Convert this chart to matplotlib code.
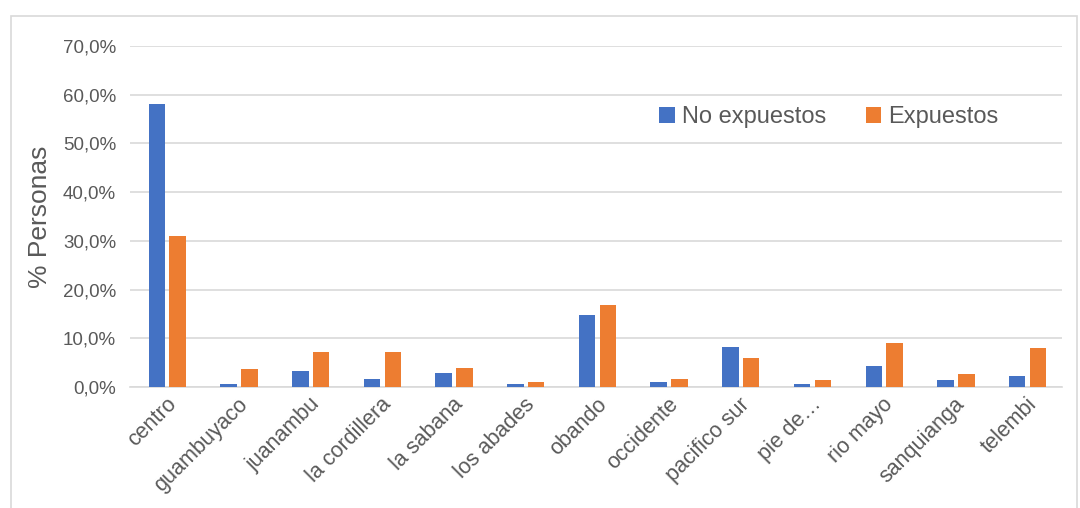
import numpy as np
import matplotlib.pyplot as plt
from matplotlib.patches import Rectangle
from matplotlib.ticker import FuncFormatter

plt.rcParams['font.family'] = ['Liberation Sans', 'DejaVu Sans']

categories = ["centro", "guambuyaco", "juanambu", "la cordillera", "la sabana",
              "los abades", "obando", "occidente", "pacifico sur", "pie de…",
              "rio mayo", "sanquianga", "telembi"]
no_expuestos = [58.0, 0.6, 3.2, 1.6, 2.8, 0.7, 14.8, 1.0, 8.2, 0.6, 4.3, 1.5, 2.3]
expuestos = [31.0, 3.6, 7.1, 7.1, 3.8, 1.1, 16.8, 1.6, 5.9, 1.5, 9.0, 2.6, 8.1]

blue = "#4472C4"
orange = "#ED7D31"
txt = "#595959"

fig = plt.figure(figsize=(10.8, 5.08), dpi=100)
fig.patches.append(Rectangle((11 / 1080, -0.01), 1066 / 1080, 1 - 16 / 508 + 0.01,
                             transform=fig.transFigure, fill=False,
                             edgecolor="#D9D9D9", linewidth=1.2))
ax = fig.add_axes([130 / 1080, 1 - 387 / 508, 932 / 1080, 341 / 508])

x = np.arange(len(categories))
w = 0.23
ax.bar(x - 0.125, np.array(no_expuestos) / 100, w, color=blue, label="No expuestos", zorder=3)
ax.bar(x + 0.165, np.array(expuestos) / 100, w, color=orange, label="Expuestos", zorder=3)

ax.set_xlim(-0.5, len(categories) - 0.5)
ax.set_ylim(0, 0.70)
ax.set_yticks(np.arange(0, 0.71, 0.1))
ax.yaxis.set_major_formatter(FuncFormatter(lambda v, p: f"{v * 100:.1f}%".replace(".", ",")))
ax.grid(axis="y", color="#D9D9D9", linewidth=1.2, zorder=0)
for s in ["top", "right", "left"]:
    ax.spines[s].set_visible(False)
ax.spines["bottom"].set_color("#D9D9D9")
ax.spines["bottom"].set_linewidth(1.2)
ax.tick_params(axis="y", length=0, pad=10, labelsize=13.5, labelcolor=txt)
ax.tick_params(axis="x", length=0, pad=5, labelsize=15.5, labelcolor=txt)
ax.set_xticks(x)
ax.set_xticklabels(categories, rotation=45, ha="right", rotation_mode="anchor")
ax.set_ylabel("% Personas", fontsize=19, color=txt, labelpad=8)

ax.legend(loc="upper right", bbox_to_anchor=(0.955, 0.885), ncol=2, frameon=False,
          fontsize=17, labelcolor=txt, handlelength=0.65, handleheight=0.65,
          handletextpad=0.3, columnspacing=1.7)

fig.savefig("out.png", dpi=100)
